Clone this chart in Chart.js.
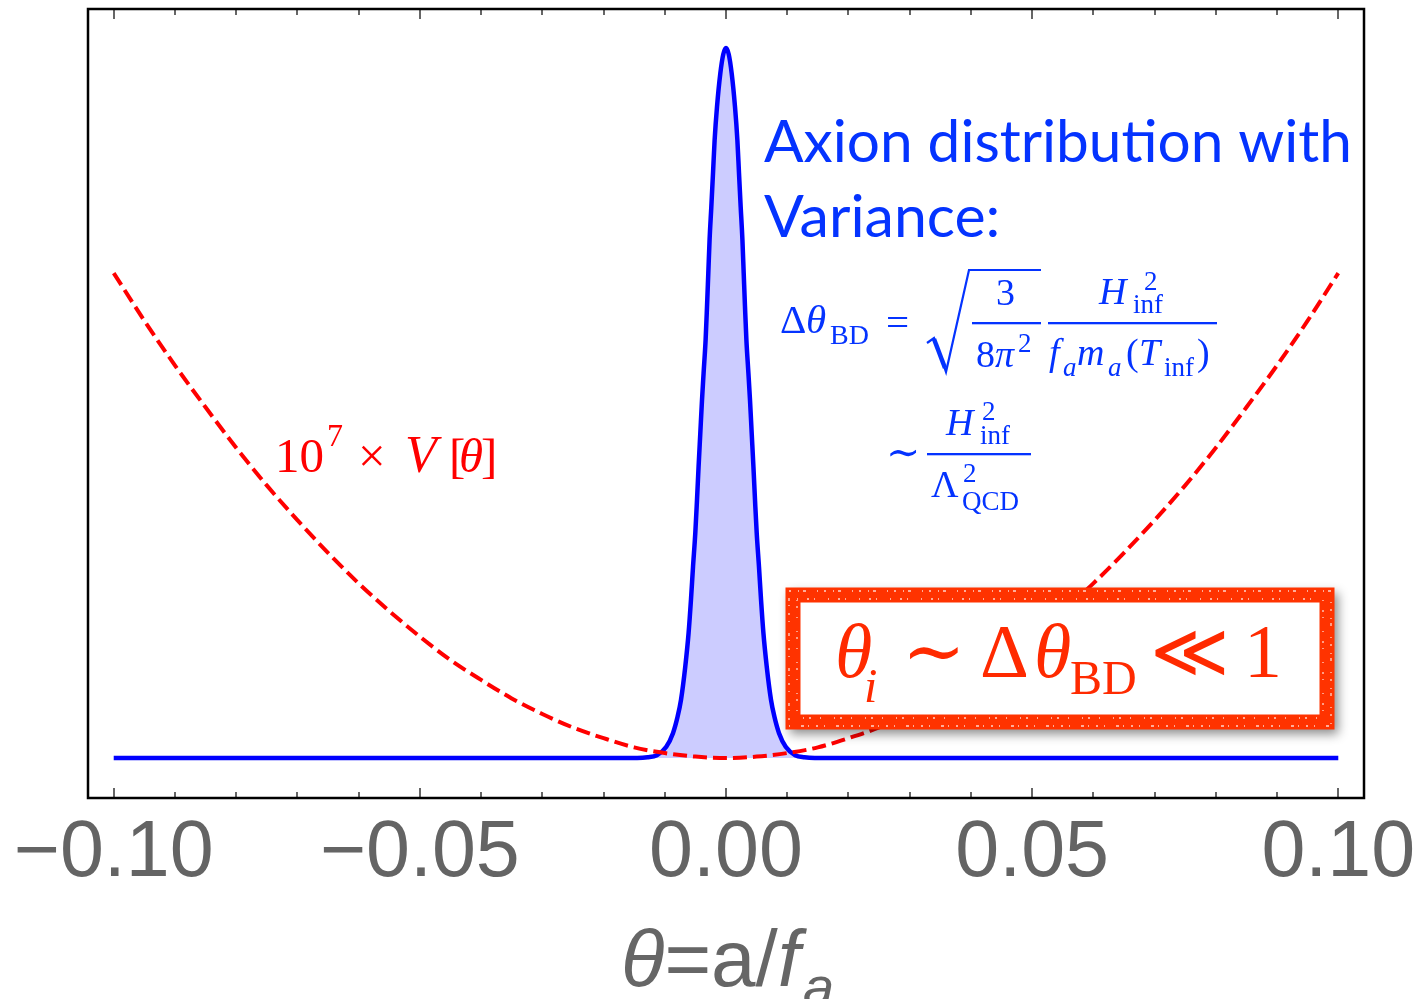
<!DOCTYPE html>
<html><head><meta charset="utf-8">
<script src="https://cdn.jsdelivr.net/npm/chart.js@4.4.1/dist/chart.umd.min.js"></script>
<style>html,body{margin:0;padding:0;background:#fff;}#wrap{width:1420px;height:999px;position:relative;}</style>
</head><body><div id="wrap"><canvas id="c"></canvas></div>
<script>
// ---- data ----
const distTheta = [-0.1, -0.0145, -0.0128, -0.0113, -0.00975, -0.00866, -0.00791, -0.00735, -0.00665, -0.00611, -0.00572, -0.00539, -0.00502, -0.00474, -0.00448, -0.0042, -0.00392, -0.00366, -0.00333, -0.0031, -0.00289, -0.00268, -0.0024, -0.00212, -0.00186, -0.00147, -0.00093, -0.00045, 0,
  0.00045, 0.00093, 0.00147, 0.00186, 0.00212, 0.0024, 0.00268, 0.00289, 0.0031, 0.00333, 0.00366, 0.00392, 0.0042, 0.00448, 0.00474, 0.00502, 0.00539, 0.00572, 0.00611, 0.00665, 0.00735, 0.00791, 0.00866, 0.00975, 0.0113, 0.0128, 0.0145, 0.1];
const distValues = [0, 0, 0.001, 0.004, 0.016, 0.035, 0.058, 0.082, 0.129, 0.176, 0.223, 0.269, 0.316, 0.363, 0.41, 0.457, 0.504, 0.542, 0.589, 0.636, 0.683, 0.73, 0.776, 0.824, 0.87, 0.917, 0.964, 0.991, 1.0,
  0.991, 0.964, 0.917, 0.87, 0.824, 0.776, 0.73, 0.683, 0.636, 0.589, 0.542, 0.504, 0.457, 0.41, 0.363, 0.316, 0.269, 0.223, 0.176, 0.129, 0.082, 0.058, 0.035, 0.016, 0.004, 0.001, 0, 0];
const potTheta = [-0.1, -0.095, -0.09, -0.085, -0.08, -0.075, -0.07, -0.065, -0.06, -0.055, -0.05, -0.045, -0.04, -0.035, -0.03, -0.025, -0.02, -0.015, -0.01, -0.005, 0,
  0.005, 0.01, 0.015, 0.02, 0.025, 0.03, 0.035, 0.04, 0.045, 0.05, 0.055, 0.06, 0.065, 0.07, 0.075, 0.08, 0.085, 0.09, 0.095, 0.1];
const potValues = [0.683, 0.616, 0.553, 0.494, 0.437, 0.384, 0.335, 0.289, 0.246, 0.207, 0.171, 0.138, 0.11, 0.084, 0.062, 0.043, 0.028, 0.015, 0.007, 0.002, 0,
  0.002, 0.007, 0.015, 0.028, 0.043, 0.062, 0.084, 0.11, 0.138, 0.171, 0.207, 0.246, 0.289, 0.335, 0.384, 0.437, 0.494, 0.553, 0.616, 0.683];
const majorTicks = [-0.1, -0.05, 0, 0.05, 0.1];
const tickLabels = ['\u22120.10', '\u22120.05', '0.00', '0.05', '0.10'];
const minorTicks = [-0.09, -0.08, -0.07, -0.06, -0.04, -0.03, -0.02, -0.01, 0.01, 0.02, 0.03, 0.04, 0.06, 0.07, 0.08, 0.09];

const BLUE = '#0433ff';
const GRAY = '#666666';
const SERIF = '"Liberation Serif", "DejaVu Serif", serif';
const SANS = '"Liberation Sans", Arial, sans-serif';

function txt(ctx, s, x, y, font, color) {
  ctx.font = font; ctx.fillStyle = color; ctx.textAlign = 'left'; ctx.textBaseline = 'alphabetic';
  ctx.fillText(s, x, y);
}

const framePlugin = {
  id: 'frame',
  afterDraw(chart) {
    const ctx = chart.ctx, a = chart.chartArea, xs = chart.scales.x;
    ctx.save();
    ctx.strokeStyle = GRAY; ctx.lineWidth = 2;
    const drawT = (vals, len) => {
      vals.forEach(v => {
        const px = Math.round(xs.getPixelForValue(v));
        ctx.beginPath(); ctx.moveTo(px, a.bottom); ctx.lineTo(px, a.bottom - len); ctx.stroke();
        ctx.beginPath(); ctx.moveTo(px, a.top); ctx.lineTo(px, a.top + len); ctx.stroke();
      });
    };
    drawT(majorTicks, 10); drawT(minorTicks, 6);
    ctx.strokeStyle = '#000'; ctx.lineWidth = 2.5;
    ctx.strokeRect(a.left, a.top, a.right - a.left, a.bottom - a.top);
    ctx.restore();
  }
};

const textPlugin = {
  id: 'texts',
  afterDraw(chart) {
    const ctx = chart.ctx;
    ctx.save();
    // axis title  θ=a/f_a
    let x = 621;
    const tf = (s, f, dy) => { ctx.font = f; ctx.fillStyle = GRAY; ctx.textBaseline = 'alphabetic'; ctx.fillText(s, x, 986 + (dy || 0)); x += ctx.measureText(s).width; };
    tf('\u03b8', 'italic 80px ' + SANS);
    tf('=a/', '80px ' + SANS);
    tf('f', 'italic 80px ' + SANS);
    x += 3;
    tf('a', 'italic 56px ' + SANS, 20);

    // Axion distribution text
    ctx.font = '59px Lato, "Open Sans", sans-serif';
    ctx.fillStyle = BLUE;
    const w1 = ctx.measureText('Axion distribution with').width;
    ctx.save(); ctx.translate(764, 162); ctx.scale(588 / w1, 1); ctx.fillText('Axion distribution with', 0, 0); ctx.restore();
    ctx.fillText('Variance:', 764, 237);

    // formula line 1
    const M = '38px ' + SERIF, MI = 'italic 38px ' + SERIF, S = '27px ' + SERIF, SI = 'italic 27px ' + SERIF;
    txt(ctx, '\u0394', 780, 333, '41px ' + SERIF, BLUE);
    txt(ctx, '\u03b8', 806, 333, 'italic 41px ' + SERIF, BLUE);
    txt(ctx, 'BD', 830, 344, '28px ' + SERIF, BLUE);
    txt(ctx, '=', 886, 336, '41px ' + SERIF, BLUE);
    // radical
    ctx.strokeStyle = BLUE; ctx.lineJoin = 'miter';
    ctx.lineWidth = 2.2;
    ctx.beginPath(); ctx.moveTo(927, 343); ctx.lineTo(934, 338); ctx.lineTo(946, 372); ctx.lineTo(969, 270); ctx.lineTo(1041, 270); ctx.stroke();
    ctx.lineWidth = 4.5;
    ctx.beginPath(); ctx.moveTo(934, 339); ctx.lineTo(945, 368); ctx.stroke();
    // fraction bars
    ctx.fillStyle = BLUE;
    ctx.fillRect(972, 322, 69, 2.3);
    ctx.fillRect(1048, 322, 169, 2.3);
    ctx.fillRect(927, 453, 104, 2.3);
    txt(ctx, '3', 996, 305, M, BLUE);
    txt(ctx, '8', 976, 367, M, BLUE);
    txt(ctx, '\u03c0', 995, 367, MI, BLUE);
    txt(ctx, '2', 1018, 352, S, BLUE);
    txt(ctx, 'H', 1099, 304, MI, BLUE);
    txt(ctx, '2', 1144, 290, S, BLUE);
    txt(ctx, 'inf', 1133, 313, S, BLUE);
    txt(ctx, 'f', 1049, 365, MI, BLUE);
    txt(ctx, 'a', 1063, 376, SI, BLUE);
    txt(ctx, 'm', 1077, 365, MI, BLUE);
    txt(ctx, 'a', 1108, 376, SI, BLUE);
    txt(ctx, '(', 1126, 365, M, BLUE);
    txt(ctx, 'T', 1139, 365, MI, BLUE);
    txt(ctx, 'inf', 1164, 376, S, BLUE);
    txt(ctx, ')', 1197, 365, M, BLUE);
    // formula line 2
    txt(ctx, '\u223c', 886, 466, '41px ' + SERIF, BLUE);
    txt(ctx, 'H', 946, 435, MI, BLUE);
    txt(ctx, '2', 982, 420, S, BLUE);
    txt(ctx, 'inf', 980, 444, S, BLUE);
    txt(ctx, '\u039b', 931, 497, M, BLUE);
    txt(ctx, '2', 963, 482, S, BLUE);
    txt(ctx, 'QCD', 962, 510, S, BLUE);

    // red potential label
    const R = '#ff0000';
    txt(ctx, '10', 275, 472, '49px ' + SERIF, R);
    txt(ctx, '7', 327, 446, '32px ' + SERIF, R);
    txt(ctx, '\u00d7', 358, 472, '49px ' + SERIF, R);
    txt(ctx, 'V', 405, 472, 'italic 52px ' + SERIF, R);
    txt(ctx, '[', 449, 472, '49px ' + SERIF, R);
    txt(ctx, '\u03b8', 459, 472, 'italic 49px ' + SERIF, R);
    txt(ctx, ']', 481, 472, '49px ' + SERIF, R);

    // red box
    ctx.save();
    ctx.shadowColor = 'rgba(0,0,0,0.45)'; ctx.shadowBlur = 10; ctx.shadowOffsetX = 4; ctx.shadowOffsetY = 5;
    ctx.fillStyle = '#fff'; ctx.fillRect(786, 588, 548, 141);
    ctx.restore();
    ctx.strokeStyle = '#ff3300'; ctx.lineWidth = 15;
    ctx.strokeRect(793, 595, 534, 127);
    // chalky texture
    ctx.strokeStyle = 'rgba(255,255,255,0.8)'; ctx.lineWidth = 1.3;
    ctx.setLineDash([2, 7, 1, 4, 3, 11, 1, 6]);
    ctx.strokeRect(789, 591, 542, 135);
    ctx.setLineDash([1, 9, 2, 5, 1, 13]);
    ctx.strokeRect(797, 599, 526, 119);
    ctx.setLineDash([]);
    const O = '#ff2a00';
    txt(ctx, '\u03b8', 835, 677, 'italic 76px ' + SERIF, O);
    txt(ctx, 'i', 864, 702, 'italic 48px ' + SERIF, O);
    txt(ctx, '\u223c', 902, 677, '76px ' + SERIF, O);
    txt(ctx, '\u0394', 980, 677, '76px ' + SERIF, O);
    txt(ctx, '\u03b8', 1034, 677, 'italic 76px ' + SERIF, O);
    txt(ctx, 'BD', 1070, 694, '48px ' + SERIF, O);
    txt(ctx, '\u226a', 1150, 677, '76px ' + SERIF, O);
    txt(ctx, '1', 1244, 677, '76px ' + SERIF, O);
    ctx.restore();
  }
};

new Chart(document.getElementById('c'), {
  type: 'line',
  data: {
    datasets: [
      {
        label: 'potential',
        data: potTheta.map((t, i) => ({ x: t, y: potValues[i] })),
        borderColor: '#ff0000', borderWidth: 4, borderDash: [14, 6],
        pointRadius: 0, fill: false, cubicInterpolationMode: 'monotone'
      },
      {
        label: 'distribution',
        data: distTheta.map((t, i) => ({ x: t, y: distValues[i] })),
        borderColor: '#0000ff', borderWidth: 4.5,
        backgroundColor: 'rgb(204,204,255)', fill: 'origin',
        pointRadius: 0, cubicInterpolationMode: 'monotone'
      }
    ]
  },
  options: {
    responsive: true, maintainAspectRatio: false, animation: false,
    layout: { padding: { left: 88, right: 56, top: 9, bottom: 0 } },
    plugins: { legend: { display: false }, tooltip: { enabled: false } },
    scales: {
      x: {
        type: 'linear', min: -0.1042, max: 0.1042,
        grid: { display: false, drawTicks: false }, border: { display: false },
        afterBuildTicks: (s) => { s.ticks = majorTicks.map(v => ({ value: v })); },
        afterFit: (s) => { s.height = 201; s.paddingLeft = 0; s.paddingRight = 0; },
        ticks: {
          autoSkip: false, maxRotation: 0, padding: 9, color: '#646464',
          font: { family: '"Liberation Sans", Arial, sans-serif', size: 79 },
          callback: (v) => tickLabels[majorTicks.indexOf(v)]
        }
      },
      y: { display: false, min: -0.0563, max: 1.0549 }
    }
  },
  plugins: [framePlugin, textPlugin]
});
</script></body></html>
